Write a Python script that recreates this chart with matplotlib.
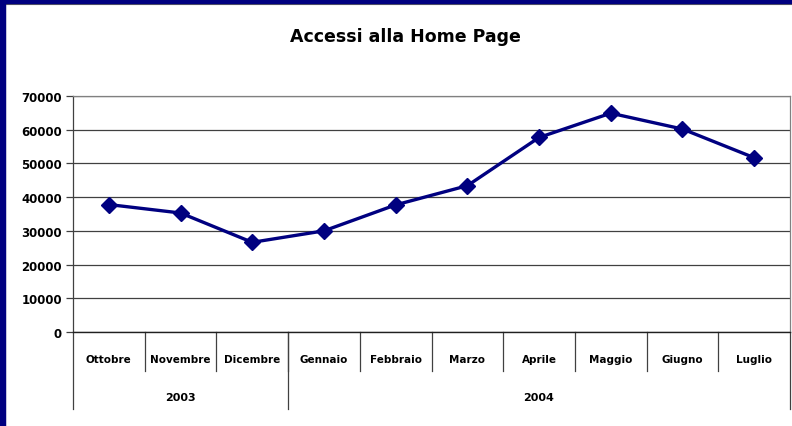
import matplotlib.pyplot as plt
from matplotlib.patches import Rectangle
from matplotlib.lines import Line2D
import matplotlib.transforms as mtransforms

mesi = ["Ottobre", "Novembre", "Dicembre", "Gennaio", "Febbraio",
        "Marzo", "Aprile", "Maggio", "Giugno", "Luglio"]
accessi = [37800, 35300, 26600, 30000, 37700, 43400, 57700, 64900, 60200, 51700]
anni = ["2003", "2004"]
mesi_per_anno = [3, 7]

blu = "#000080"

fig = plt.figure(figsize=(7.92, 4.27), dpi=100)
ax = fig.add_axes([73/792, 1 - 333/427, (790 - 73)/792, (333 - 97)/427])

x = list(range(len(mesi)))
ax.plot(x, accessi, color=blu, linewidth=2.4, marker="D", markersize=8.5,
        markerfacecolor=blu, markeredgecolor=blu, zorder=3)

ax.set_xlim(-0.5, len(mesi) - 0.5)
ax.set_ylim(0, 70000)
ax.set_yticks(range(0, 70001, 10000))
ax.yaxis.grid(True, color="#404040", linewidth=0.9)
ax.set_axisbelow(True)
ax.tick_params(axis="y", direction="out", length=5, width=0.9, color="#404040",
               labelsize=8.5, pad=3)
for lab in ax.get_yticklabels():
    lab.set_fontweight("bold")
ax.set_xticks([])

for lato in ["top", "right"]:
    ax.spines[lato].set_color("#808080")
    ax.spines[lato].set_linewidth(0.9)
ax.spines["left"].set_color("#404040")
ax.spines["bottom"].set_color("#202020")
ax.spines["left"].set_linewidth(0.9)
ax.spines["bottom"].set_linewidth(1.0)

# asse delle categorie a due livelli (mesi / anni)
trans = mtransforms.blended_transform_factory(ax.transData, ax.transAxes)
h = 236.0
for i, m in enumerate(mesi):
    ax.text(i, -(360 - 333)/h, m, transform=trans, ha="center", va="center",
            fontsize=7.5, fontweight="bold")
for i in range(1, len(mesi)):
    ax.plot([i - 0.5, i - 0.5], [0, -(372 - 333)/h], transform=trans,
            color="#404040", linewidth=0.9, clip_on=False)

inizio = -0.5
confini = [inizio]
for anno, n in zip(anni, mesi_per_anno):
    fine = inizio + n
    ax.text((inizio + fine) / 2, -(398 - 333)/h, anno, transform=trans,
            ha="center", va="center", fontsize=8, fontweight="bold")
    confini.append(fine)
    inizio = fine
for c in confini:
    ax.plot([c, c], [0, -(410 - 333)/h], transform=trans,
            color="#404040", linewidth=0.9, clip_on=False)

fig.text(405/792, 1 - 37/427, "Accessi alla Home Page", ha="center", va="center",
         fontsize=12.5, fontweight="bold")

# cornice blu sui bordi sinistro e superiore, con filo grigio interno
fig.patches.append(Rectangle((0, 0), 4.5/792, 1, transform=fig.transFigure,
                             color=blu, zorder=10))
fig.patches.append(Rectangle((0, 1 - 4/427), 1, 4/427, transform=fig.transFigure,
                             color=blu, zorder=10))
fig.lines.append(Line2D([5/792, 5/792], [0, 1 - 4.5/427], transform=fig.transFigure,
                        color="#606060", linewidth=0.8))
fig.lines.append(Line2D([5/792, 1], [1 - 4.5/427, 1 - 4.5/427], transform=fig.transFigure,
                        color="#606060", linewidth=0.8))

fig.savefig("out.png", dpi=100)
